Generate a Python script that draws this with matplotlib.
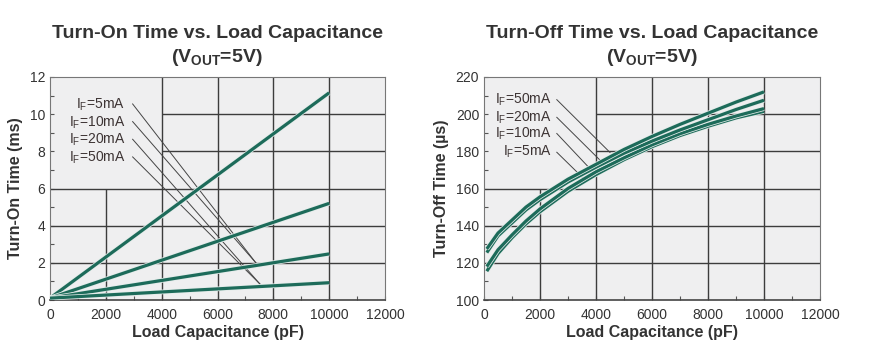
import matplotlib
matplotlib.use('Agg')
import matplotlib.pyplot as plt
import matplotlib.patheffects as pe
from matplotlib import font_manager

# pick a condensed sans if there is one
names = set(f.name for f in font_manager.fontManager.ttflist)
FONT = 'Liberation Sans Narrow' if 'Liberation Sans Narrow' in names else 'Liberation Sans'
plt.rcParams['font.family'] = [FONT, 'DejaVu Sans']
plt.rcParams['mathtext.fontset'] = 'custom'
plt.rcParams['mathtext.rm'] = FONT
plt.rcParams['mathtext.bf'] = FONT + ':bold'

# ---- data ----
cap_on = [0, 10000]
on_5mA = [0.1, 11.15]
on_10mA = [0.1, 5.2]
on_20mA = [0.1, 2.48]
on_50mA = [0.1, 0.93]
on_labels = ['5mA', '10mA', '20mA', '50mA']

cap_off = [100, 500, 1000, 1500, 2000, 3000, 4000, 5000, 6000, 7000, 8000, 9000, 10000]
off_50mA = [127.5, 136, 143, 150, 155.5, 165, 173, 181, 188, 194.5, 200.5, 206.5, 212]
off_20mA = [125.5, 134.5, 141.5, 148.5, 154, 163.5, 171.5, 179, 185.5, 191.5, 197, 202.5, 207.5]
off_10mA = [118, 127, 135, 142.5, 149, 160, 169, 176.5, 183.5, 189.5, 194.5, 199, 203]
off_5mA = [115.5, 125, 133.5, 141, 147.5, 158.5, 167.5, 175.5, 182.5, 188.5, 193.5, 198, 201.5]
off_labels = ['50mA', '20mA', '10mA', '5mA']

# label anchor (data coords) and where the leader line ends
on_lab_y = [10.5, 9.55, 8.6, 7.65]
on_lead_end = [(7380, 1.99), (7380, 1.99), (7520, 0.86), (7520, 0.86)]
off_lab_y = [207.8, 198.3, 189.6, 179.5]
off_lead_end = [(4500, 179.4), (4200, 174.4), (3890, 169.0), (3610, 164.6)]

GREEN = '#1d6b5a'
BG = '#efeff0'
GRID = '#3c3c3c'
TXT = '#333333'

fig = plt.figure(figsize=(8.75, 3.6), dpi=100)
ax1 = fig.add_axes([50/875, 60/360, 335/875, 223/360])
ax2 = fig.add_axes([484/875, 60/360, 336/875, 223/360])


def frame(ax, ymin, ymax, ystep, minor):
    ax.set_facecolor(BG)
    ax.set_xlim(0, 12000)
    ax.set_ylim(ymin, ymax)
    ax.set_xticks(range(0, 12001, 2000))
    ax.set_xticks(range(1000, 12000, 2000), minor=True)
    ax.set_yticks(range(ymin, ymax + 1, ystep))
    ax.set_yticks(range(ymin + minor, ymax, ystep), minor=True)
    ax.tick_params(which='both', direction='in', length=3, width=0.8,
                   colors='#555555', labelcolor=TXT, labelsize=10)
    ax.tick_params(axis='x', pad=6)
    for s in ax.spines.values():
        s.set_color('#777777')
        s.set_linewidth(0.8)
    ax.spines['bottom'].set_color('#444444')
    ax.spines['bottom'].set_linewidth(1.2)


frame(ax1, 0, 12, 2, 1)
frame(ax2, 100, 220, 20, 10)

# broken grid, as in the datasheet (cleared where the labels sit)
ax1.vlines(2000, 0, 6, color=GRID, lw=1)
ax1.vlines([4000, 6000, 8000, 10000], 0, 12, color=GRID, lw=1)
ax1.hlines([2, 4, 6], 0, 12000, color=GRID, lw=1)
ax1.hlines([8, 10], 4000, 12000, color=GRID, lw=1)
ax2.vlines(2000, 100, 160, color=GRID, lw=1)
ax2.vlines([4000, 6000, 8000, 10000], 100, 220, color=GRID, lw=1)
ax2.hlines([120, 140, 160], 0, 12000, color=GRID, lw=1)
ax2.hlines([180, 200], 4000, 12000, color=GRID, lw=1)

fx = [pe.Stroke(linewidth=3.4, foreground='#e4ecea'), pe.Normal()]
for ys in [on_5mA, on_10mA, on_20mA, on_50mA]:
    ax1.plot(cap_on, ys, color=GREEN, lw=2.3, solid_capstyle='butt', path_effects=fx, zorder=3)
for ys in [off_5mA, off_10mA, off_20mA, off_50mA]:
    ax2.plot(cap_off, ys, color=GREEN, lw=2.3, solid_capstyle='butt', path_effects=fx, zorder=3)

for lab, y, (ex, ey) in zip(on_labels, on_lab_y, on_lead_end):
    ax1.text(2700, y, r'$\mathrm{I_F}$=' + lab, ha='right', va='center',
             fontsize=10, color='#3d3434')
    ax1.plot([2960, ex], [y + 0.05, ey], color='#444444', lw=0.7, zorder=2)
for lab, y, (ex, ey) in zip(off_labels, off_lab_y, off_lead_end):
    ax2.text(2420, y, r'$\mathrm{I_F}$=' + lab, ha='right', va='center',
             fontsize=10, color='#3d3434')
    ax2.plot([2600, ex], [y, ey], color='#444444', lw=0.7, zorder=2)

ax1.set_xlabel('Load Capacitance (pF)', fontsize=11.5, fontweight='bold', color=TXT, labelpad=2)
ax2.set_xlabel('Load Capacitance (pF)', fontsize=11.5, fontweight='bold', color=TXT, labelpad=2)
ax1.set_ylabel('Turn-On Time (ms)', fontsize=11.5, fontweight='bold', color=TXT, labelpad=5)
ax2.set_ylabel('Turn-Off Time (µs)', fontsize=11.5, fontweight='bold', color=TXT, labelpad=5)

for cx, title in [(217, 'Turn-On Time vs. Load Capacitance'),
                  (652, 'Turn-Off Time vs. Load Capacitance')]:
    fig.text(cx/875, 1 - 33/360, title, ha='center', va='center',
             fontsize=14, fontweight='bold', color=TXT)
    fig.text(cx/875, 1 - 57/360, r'($\mathbf{V_{OUT}}$=5V)', ha='center', va='center',
             fontsize=14, fontweight='bold', color=TXT)

fig.savefig('out.png', dpi=100)
